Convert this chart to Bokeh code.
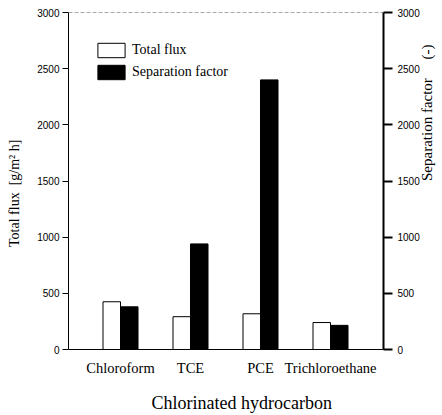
import math
from bokeh.plotting import figure
from bokeh.models import (Range1d, LinearAxis, FixedTicker, Span, Legend, LegendItem,
                          ColumnDataSource)
from bokeh.transform import dodge
from bokeh.embed import file_html
from bokeh.resources import INLINE

categories = ["Chloroform", "TCE", "PCE", "Trichloroethane"]
total_flux = [425, 292, 318, 240]
separation_factor = [380, 940, 2400, 215]
y_ticks = [0, 500, 1000, 1500, 2000, 2500, 3000]

xpos = list(range(len(categories)))
src = ColumnDataSource(dict(x=xpos, flux=total_flux, sep=separation_factor))

NB = "\u00a0"

p = figure(frame_width=315, frame_height=337,
           x_range=Range1d(-0.743, 3.757), y_range=Range1d(0, 3000),
           output_backend="svg", toolbar_location=None,
           min_border_left=68, min_border_right=58, min_border_top=12, min_border_bottom=64)
p.grid.visible = False
p.outline_line_color = None
p.background_fill_color = "white"
p.border_fill_color = "white"

r1 = p.vbar(x=dodge("x", -0.125, range=p.x_range), top="flux", width=0.25, source=src,
            fill_color="white", line_color="black", line_width=1)
r2 = p.vbar(x=dodge("x", 0.125, range=p.x_range), top="sep", width=0.25, source=src,
            fill_color="black", line_color="black", line_width=1)

# left axis
ya = p.yaxis[0]
ya.ticker = FixedTicker(ticks=y_ticks)
ya.major_tick_out = 6
ya.major_tick_in = 0
ya.minor_tick_out = 0
ya.minor_tick_in = 0
ya.axis_line_color = "black"
ya.major_tick_line_color = "black"
ya.major_label_text_font = "Liberation Sans"
ya.major_label_text_font_size = "10px"
ya.major_label_text_color = "black"
ya.major_label_standoff = 3
ya.axis_label = "Total flux" + NB * 2 + "[g/m\u00b2" + NB + "h]" + NB * 7
ya.axis_label_text_font = "Liberation Serif"
ya.axis_label_text_font_size = "14px"
ya.axis_label_text_font_style = "normal"
ya.axis_label_text_color = "black"
ya.axis_label_standoff = 12

# right axis (line, ticks, tick labels)
ra = LinearAxis(ticker=FixedTicker(ticks=y_ticks))
ra.major_tick_out = 9
ra.major_tick_in = 0
ra.minor_tick_out = 0
ra.minor_tick_in = 0
ra.axis_line_width = 2
ra.major_tick_line_width = 2
ra.axis_line_color = "black"
ra.major_label_text_font = "Liberation Sans"
ra.major_label_text_font_size = "10px"
ra.major_label_text_color = "black"
ra.major_label_standoff = 5
p.add_layout(ra, "right")

# second right axis carrying only the title, bounded to move the title down
rt = LinearAxis(ticker=FixedTicker(ticks=[]), bounds=(0, 1727))
rt.axis_line_color = None
rt.major_tick_line_color = None
rt.minor_tick_line_color = None
rt.major_tick_out = 0
rt.major_tick_in = 0
rt.minor_tick_out = 0
rt.minor_tick_in = 0
rt.major_label_standoff = 0
rt.axis_label = "Separation factor" + NB * 5 + "(-)"
rt.axis_label_orientation = math.pi / 2
rt.axis_label_text_font = "Liberation Serif"
rt.axis_label_text_font_size = "15px"
rt.axis_label_text_font_style = "normal"
rt.axis_label_text_color = "black"
rt.axis_label_standoff = 4
p.add_layout(rt, "right")

# bottom axis
xa = p.xaxis[0]
xa.ticker = FixedTicker(ticks=xpos)
xa.major_label_overrides = {i: c for i, c in zip(xpos, categories)}
xa.major_tick_out = 0
xa.major_tick_in = 0
xa.minor_tick_out = 0
xa.minor_tick_in = 0
xa.axis_line_color = "black"
xa.major_label_text_font = "Liberation Serif"
xa.major_label_text_font_size = "14.5px"
xa.major_label_text_color = "black"
xa.major_label_standoff = 10
xa.axis_label = NB * 7 + "Chlorinated hydrocarbon"
xa.axis_label_text_font = "Liberation Serif"
xa.axis_label_text_font_size = "18px"
xa.axis_label_text_font_style = "normal"
xa.axis_label_text_color = "black"
xa.axis_label_standoff = 14

# dashed top border
p.add_layout(Span(location=3000, dimension="width", line_color="#555555",
                  line_width=1, line_dash="4 2"))

legend = Legend(items=[LegendItem(label="Total flux", renderers=[r1]),
                       LegendItem(label="Separation factor", renderers=[r2])],
                location=(26, 268), glyph_width=34, glyph_height=18, label_height=18,
                spacing=4, label_standoff=4, padding=0, margin=0,
                border_line_color=None, background_fill_alpha=0,
                label_text_font="Liberation Serif", label_text_font_size="14px",
                label_text_color="black")
p.add_layout(legend)

open("out.html", "w").write(file_html(p, INLINE))
